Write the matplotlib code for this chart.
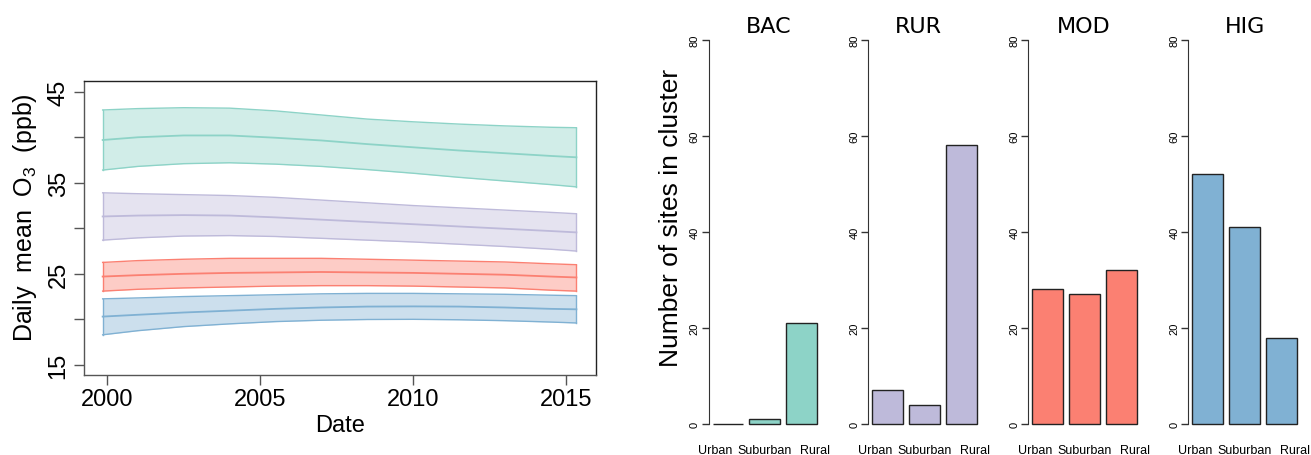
import matplotlib
matplotlib.use('Agg')
import matplotlib.pyplot as plt

# ---- trend data ----
years = [1999.85, 2001, 2002.5, 2004, 2005.5, 2007, 2008.5, 2010, 2011.5, 2013, 2014.5, 2015.34]

bac_mean = [39.7, 40.0, 40.2, 40.2, 39.95, 39.65, 39.25, 38.9, 38.55, 38.25, 37.95, 37.8]
bac_upper = [43.0, 43.15, 43.25, 43.2, 42.9, 42.45, 42.0, 41.7, 41.45, 41.25, 41.1, 41.05]
bac_lower = [36.4, 36.8, 37.1, 37.2, 37.05, 36.8, 36.45, 36.05, 35.6, 35.2, 34.8, 34.55]

rur_mean = [31.3, 31.4, 31.45, 31.4, 31.2, 30.95, 30.7, 30.45, 30.2, 29.95, 29.7, 29.55]
rur_upper = [33.9, 33.8, 33.7, 33.6, 33.4, 33.1, 32.8, 32.5, 32.25, 32.0, 31.75, 31.6]
rur_lower = [28.7, 28.95, 29.15, 29.2, 29.1, 28.9, 28.7, 28.5, 28.25, 28.0, 27.7, 27.5]

mod_mean = [24.7, 24.85, 25.0, 25.1, 25.15, 25.2, 25.15, 25.1, 25.0, 24.9, 24.7, 24.6]
mod_upper = [26.25, 26.45, 26.6, 26.7, 26.7, 26.7, 26.6, 26.5, 26.4, 26.3, 26.1, 26.0]
mod_lower = [23.1, 23.3, 23.45, 23.55, 23.65, 23.7, 23.7, 23.65, 23.55, 23.45, 23.2, 23.1]

hig_mean = [20.3, 20.5, 20.75, 20.95, 21.15, 21.3, 21.4, 21.42, 21.4, 21.3, 21.15, 21.1]
hig_upper = [22.25, 22.35, 22.5, 22.6, 22.7, 22.8, 22.85, 22.85, 22.8, 22.75, 22.65, 22.6]
hig_lower = [18.3, 18.75, 19.2, 19.5, 19.75, 19.9, 19.98, 20.0, 19.95, 19.85, 19.7, 19.6]

# ---- site counts per cluster ----
clusters = ["BAC", "RUR", "MOD", "HIG"]
site_types = ["Urban", "Suburban", "Rural"]
bac_counts = [0, 1, 21]
rur_counts = [7, 4, 58]
mod_counts = [28, 27, 32]
hig_counts = [52, 41, 18]

colors = {"BAC": "#8DD3C7", "RUR": "#BEBADA", "MOD": "#FB8072", "HIG": "#80B1D3"}

plt.rcParams['font.family'] = ['Liberation Sans', 'DejaVu Sans']
plt.rcParams['mathtext.fontset'] = 'custom'
plt.rcParams['mathtext.rm'] = 'Liberation Sans'
plt.rcParams['mathtext.it'] = 'Liberation Sans:italic'

W, H = 1311, 456
fig = plt.figure(figsize=(W / 100, H / 100), dpi=100)


def px_axes(x0, y0, x1, y1):
    """Add axes from pixel box (top-left origin)."""
    return fig.add_axes([x0 / W, 1 - y1 / H, (x1 - x0) / W, (y1 - y0) / H])


# ---- left: trend bands ----
ax = px_axes(84.3, 82.3, 595.7, 376.3)
bands = [
    ("BAC", bac_mean, bac_upper, bac_lower),
    ("RUR", rur_mean, rur_upper, rur_lower),
    ("MOD", mod_mean, mod_upper, mod_lower),
    ("HIG", hig_mean, hig_upper, hig_lower),
]
for name, mean, upper, lower in bands:
    c = colors[name]
    ax.fill_between(years, lower, upper, color=c, alpha=0.4, linewidth=0)
    ax.plot(years, upper, color=c, lw=1.0)
    ax.plot(years, lower, color=c, lw=1.0)
    ax.plot(years, mean, color=c, lw=1.3)
    ax.plot([years[0], years[0]], [lower[0], upper[0]], color=c, lw=1.0)
    ax.plot([years[-1], years[-1]], [lower[-1], upper[-1]], color=c, lw=1.0)

ax.set_xlim(1999.25, 2015.97)
ax.set_ylim(13.85, 46.15)
ax.set_xticks([2000, 2005, 2010, 2015])
ax.set_yticks([15, 20, 25, 30, 35, 40, 45])
ax.set_yticklabels(["15", "", "25", "", "35", "", "45"])
ax.tick_params(axis='both', direction='out', length=7, width=1, color='#555555',
               labelsize=17)
ax.tick_params(axis='x', pad=2)
ax.tick_params(axis='y', pad=3.5)
for lab in ax.get_yticklabels():
    lab.set_rotation(90)
    lab.set_va('center')
for s in ax.spines.values():
    s.set_color('#222222')
    s.set_linewidth(1.0)
ax.spines['left'].set_color('#555555')
ax.spines['bottom'].set_color('#555555')

fig.text(340 / W, 1 - 432 / H, "Date", ha='center', va='baseline', fontsize=17)
fig.text(25 / W, 1 - 217.5 / H, r"Daily  mean  O$_\mathregular{3}$  (ppb)",
         ha='center', va='center', rotation=90, fontsize=18)

# ---- right: bar panels ----
counts = [bac_counts, rur_counts, mod_counts, hig_counts]
axis_x = [708.5, 868.3, 1028.3, 1188.3]
title_x = [768.5, 918.0, 1084.0, 1245.0]
bar_pos = [0.7, 1.9, 3.1]
label_pos = [0.29, 1.89, 3.56]
px_per_unit = 30.6
y_top, y_zero = 40.7, 425.0
py_per_unit = (y_zero - y_top) / 80.0

for name, vals, ax_x, tx in zip(clusters, counts, axis_x, title_x):
    width_px = (3.736 - 0.064) * px_per_unit
    bx = px_axes(ax_x, y_top - 3.2 * py_per_unit, ax_x + width_px, y_zero + 3.2 * py_per_unit)
    bx.bar(bar_pos, vals, width=1.0, color=colors[name], edgecolor='#222222', linewidth=1.0)
    bx.set_xlim(0.064, 3.736)
    bx.set_ylim(-3.2, 83.2)
    for side in ['top', 'right', 'bottom']:
        bx.spines[side].set_visible(False)
    bx.spines['left'].set_bounds(0, 80)
    bx.spines['left'].set_color('#333333')
    bx.set_xticks([])
    bx.set_yticks([0, 20, 40, 60, 80])
    bx.tick_params(axis='y', direction='out', length=5, width=1, color='#333333',
                   labelsize=8, pad=1.5)
    for lab in bx.get_yticklabels():
        lab.set_rotation(90)
        lab.set_va('center')
    for lp, st in zip(label_pos, site_types):
        fig.text((ax_x + (lp - 0.064) * px_per_unit) / W, 1 - 454 / H, st,
                 ha='center', va='baseline', fontsize=9)
    fig.text(tx / W, 1 - 32.7 / H, name, ha='center', va='baseline',
             fontsize=16, family='DejaVu Sans')

fig.text(671 / W, 1 - 217.5 / H, "Number of sites in cluster", ha='center', va='center',
         rotation=90, fontsize=19)

fig.savefig("out.png", dpi=100)
